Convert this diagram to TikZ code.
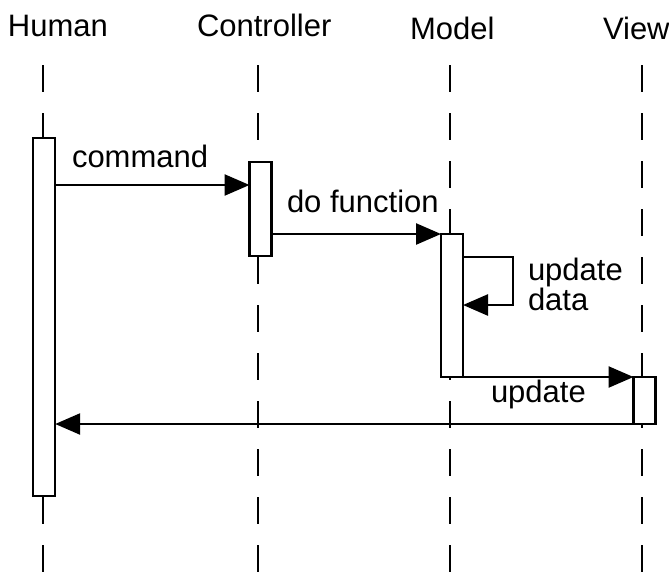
\documentclass[tikz,border=0pt]{standalone}
\usepackage{fontspec}
\setmainfont{Liberation Sans}
\usetikzlibrary{arrows.meta}
\begin{document}
\begin{tikzpicture}[x=1pt, y=-1pt, line width=2.5pt,
  lbl/.style={anchor=base west, inner sep=0pt, outer sep=0pt,
              font=\fontsize{31}{30}\selectfont},
  lifeline/.style={dash pattern=on 27pt off 21pt},
  actbox/.style={draw, fill=white, minimum width=22pt, inner sep=0pt, outer sep=0pt},
  msg/.style={-{Triangle[length=25pt, width=21pt]}}]
\useasboundingbox (0,0) rectangle (669,571);

% participant names
\node[lbl] (tHuman) at (8,36) {Human};
\node[lbl] (tCtrl)  at (197,36) {Controller};
\node[lbl] (tModel) at (410,39) {Model};
\node[lbl] (tView)  at (603,39) {View};

% lifelines
\coordinate (hTop) at (43,65);  \coordinate (hBot) at (43,580);
\coordinate (cTop) at (258,65); \coordinate (cBot) at (258,580);
\coordinate (mTop) at (450,65); \coordinate (mBot) at (450,580);
\coordinate (vTop) at (642,65); \coordinate (vBot) at (642,580);
\draw[lifeline] (hTop) -- (hBot);
\draw[lifeline] (cTop) -- (cBot);
\draw[lifeline] (mTop) -- (mBot);
\draw[lifeline] (vTop) -- (vBot);

% activation bars
\node[actbox, minimum height=358pt] (human) at (44.2,317) {};
\node[actbox, minimum height=94pt]  (ctrl)  at (260.5,209) {};
\node[actbox, minimum height=143pt] (model) at (452,305.5) {};
\node[actbox, minimum height=47pt]  (view)  at (644.5,400.5) {};

% messages
\coordinate (cmdY) at (0,185);
\draw[msg] (human.east |- cmdY) -- (ctrl.west |- cmdY);
\node[lbl] (lCmd) at (72,167) {command};

\draw[msg] (ctrl.east |- model.north) -- (model.north west);
\node[lbl] (lDo) at (287,212) {do function};

\coordinate (selfA) at (513,257);
\coordinate (selfB) at (513,305);
\draw[msg] (model.east |- selfA) -- (selfA) -- (selfB) -- (model.east |- selfB);
% the base anchor of a two-line node sits on its last line
\node[lbl, align=left] (lUpd) at (528,310) {update\\data};

\draw[msg] (model.south east) -- (view.north west);
\node[lbl] (lUpdate) at (491,402) {update};

\draw[msg] (view.south east) -- (human.east |- view.south);
\end{tikzpicture}
\end{document}
